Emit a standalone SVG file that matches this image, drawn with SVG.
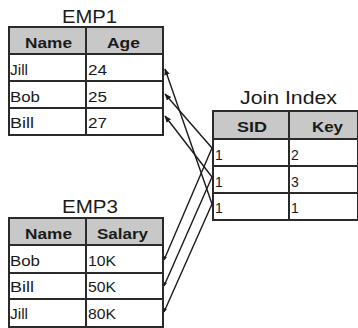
<svg xmlns="http://www.w3.org/2000/svg" width="358" height="328" viewBox="0 0 358 328">
<style>
.t{font-family:"Liberation Sans",Arial,sans-serif;fill:#1a1a1a}
.title{font-size:18px}
.hd{font-size:14px;font-weight:bold}
.cell{font-size:14px}
.box{fill:#fff;stroke:#2a2a2a;stroke-width:2}
.hfill{fill:#c8c8c8;stroke:#2a2a2a;stroke-width:2}
.ln{stroke:#2a2a2a;stroke-width:2;fill:none}
.cn{stroke:#1a1a1a;stroke-width:1.4;fill:none}
</style>
<defs>
<marker id="ah" viewBox="0 0 10 10" refX="9" refY="5" markerWidth="7" markerHeight="7" orient="auto" markerUnits="userSpaceOnUse">
<path d="M0,1 L10,5 L0,9 z" fill="#1a1a1a"/>
</marker>
<marker id="dot" viewBox="0 0 10 10" refX="9" refY="5" markerWidth="4" markerHeight="4" orient="auto" markerUnits="userSpaceOnUse">
<path d="M0,1 L10,5 L0,9 z" fill="#1a1a1a"/>
</marker>
</defs>

<g id="emp1">
<text class="t title" x="62" y="23" textLength="55" lengthAdjust="spacingAndGlyphs">EMP1</text>
<rect class="hfill" x="9" y="27" width="154" height="27"/>
<rect class="box" x="9" y="54" width="154" height="81"/>
<line class="ln" x1="9" y1="81" x2="163" y2="81"/>
<line class="ln" x1="9" y1="108" x2="163" y2="108"/>
<line class="ln" x1="86" y1="27" x2="86" y2="135"/>
<text class="t hd" x="25" y="48" textLength="47" lengthAdjust="spacingAndGlyphs">Name</text>
<text class="t hd" x="107" y="48" textLength="33" lengthAdjust="spacingAndGlyphs">Age</text>
<text class="t cell" x="10" y="75" textLength="18" lengthAdjust="spacingAndGlyphs">Jill</text>
<text class="t cell" x="88" y="75" textLength="19" lengthAdjust="spacingAndGlyphs">24</text>
<text class="t cell" x="10" y="102" textLength="30" lengthAdjust="spacingAndGlyphs">Bob</text>
<text class="t cell" x="88" y="102" textLength="19" lengthAdjust="spacingAndGlyphs">25</text>
<text class="t cell" x="10" y="128" textLength="24" lengthAdjust="spacingAndGlyphs">Bill</text>
<text class="t cell" x="88" y="128" textLength="19" lengthAdjust="spacingAndGlyphs">27</text>
</g>

<g id="emp3">
<text class="t title" x="62" y="213" textLength="56" lengthAdjust="spacingAndGlyphs">EMP3</text>
<rect class="hfill" x="9" y="218" width="154" height="27"/>
<rect class="box" x="9" y="245" width="154" height="82"/>
<line class="ln" x1="9" y1="273" x2="163" y2="273"/>
<line class="ln" x1="9" y1="299" x2="163" y2="299"/>
<line class="ln" x1="86" y1="218" x2="86" y2="327"/>
<text class="t hd" x="25" y="239" textLength="47" lengthAdjust="spacingAndGlyphs">Name</text>
<text class="t hd" x="97" y="239" textLength="51" lengthAdjust="spacingAndGlyphs">Salary</text>
<text class="t cell" x="10" y="266" textLength="30" lengthAdjust="spacingAndGlyphs">Bob</text>
<text class="t cell" x="88" y="266" textLength="28" lengthAdjust="spacingAndGlyphs">10K</text>
<text class="t cell" x="10" y="292" textLength="24" lengthAdjust="spacingAndGlyphs">Bill</text>
<text class="t cell" x="88" y="292" textLength="28" lengthAdjust="spacingAndGlyphs">50K</text>
<text class="t cell" x="10" y="319" textLength="18" lengthAdjust="spacingAndGlyphs">Jill</text>
<text class="t cell" x="88" y="319" textLength="28" lengthAdjust="spacingAndGlyphs">80K</text>
</g>

<g id="joinindex">
<text class="t title" x="240" y="104" textLength="97" lengthAdjust="spacingAndGlyphs">Join Index</text>
<rect class="hfill" x="213" y="111" width="145" height="28"/>
<rect class="box" x="213" y="139" width="145" height="81"/>
<line class="ln" x1="213" y1="166" x2="358" y2="166"/>
<line class="ln" x1="213" y1="193" x2="358" y2="193"/>
<line class="ln" x1="289" y1="111" x2="289" y2="220"/>
<text class="t hd" x="237" y="132" textLength="30" lengthAdjust="spacingAndGlyphs">SID</text>
<text class="t hd" x="312" y="132" textLength="31" lengthAdjust="spacingAndGlyphs">Key</text>
<text class="t cell" x="215" y="160">1</text>
<text class="t cell" x="291" y="160">2</text>
<text class="t cell" x="215" y="187">1</text>
<text class="t cell" x="291" y="187">3</text>
<text class="t cell" x="215" y="213">1</text>
<text class="t cell" x="291" y="213">1</text>
</g>

<g id="connectors">
<line class="cn" x1="212" y1="148" x2="165" y2="94" marker-end="url(#ah)"/>
<line class="cn" x1="212" y1="177" x2="165" y2="116" marker-end="url(#ah)"/>
<line class="cn" x1="212" y1="204" x2="165" y2="69" marker-end="url(#ah)"/>
<line class="cn" x1="212" y1="148" x2="164" y2="260" marker-end="url(#dot)"/>
<line class="cn" x1="212" y1="177" x2="164" y2="286" marker-end="url(#dot)"/>
<line class="cn" x1="212" y1="204" x2="164" y2="312" marker-end="url(#dot)"/>
</g>
</svg>
